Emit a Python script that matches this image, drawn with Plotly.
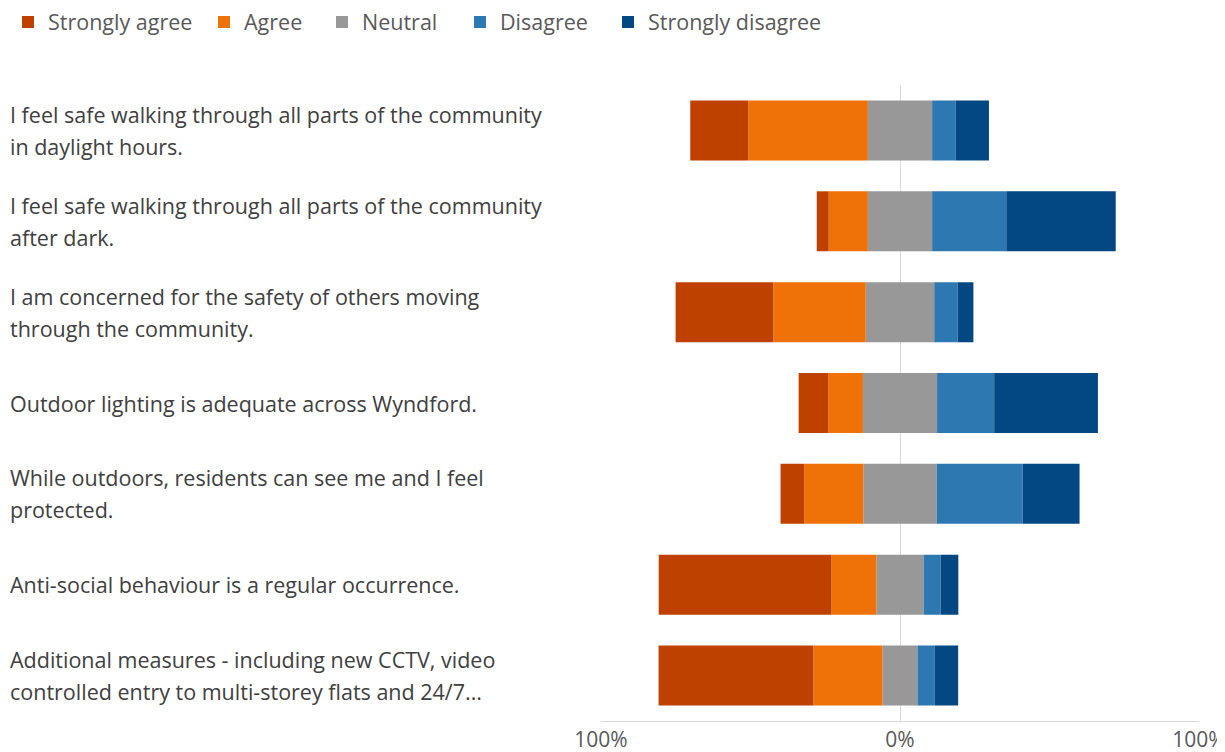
import plotly.graph_objects as go

# ---- data (percent of respondents) ----
label_lines = [
    ["I feel safe walking through all parts of the community", "in daylight hours."],
    ["I feel safe walking through all parts of the community", "after dark."],
    ["I am concerned for the safety of others moving", "through the community."],
    ["Outdoor lighting is adequate across Wyndford."],
    ["While outdoors, residents can see me and I feel", "protected."],
    ["Anti-social behaviour is a regular occurrence."],
    ["Additional measures - including new CCTV, video", "controlled entry to multi-storey flats and 24/7..."],
]
categories = [" ".join(l) for l in label_lines]

strongly_agree = [19.4, 4.0, 32.7, 9.9, 7.9, 57.8, 51.8]
agree = [40.0, 13.1, 30.9, 11.6, 19.8, 15.0, 23.1]
neutral = [21.5, 21.5, 22.9, 24.8, 24.5, 15.8, 11.7]
disagree = [7.9, 24.8, 7.8, 19.1, 28.8, 5.7, 5.8]
strongly_disagree = [11.1, 36.6, 5.3, 34.7, 19.0, 5.9, 7.8]

tick_vals = [-100, 0, 100]
tick_text = ["100%", "0%", "100%"]

series_names = ["Strongly agree", "Agree", "Neutral", "Disagree", "Strongly disagree"]
colors = ["#BE4100", "#EE7207", "#989898", "#2E78B2", "#034882"]

# ---- layout geometry (screen pixels; the page body adds an 8px offset) ----
OFF = 8
SW, SH = 1225, 752
W, H = SW - OFF, SH - OFF
PL, PR, PT, PB = 601, 1199, 84.5, 721.5          # plot box on screen
ML, MR, MT, MB = PL - OFF, SW - PR, PT - OFF, SH - PB
PW, PH = W - ML - MR, H - MT - MB

def px_x(sx):
    return (sx - OFF - ML) / PW

def px_y(sy):
    return (H - MB - (sy - OFF)) / PH

FONT = "Open Sans"
TXT = "#404040"
LEG = "#595959"
FS = 21.5

fig = go.Figure()

half_neutral = [v / 2 for v in neutral]
fig.add_trace(go.Bar(y=categories, x=[-v for v in half_neutral], orientation="h",
                     name=series_names[2], marker=dict(color=colors[2], line=dict(width=0)),
                     legend="legend3", showlegend=True, hoverinfo="skip"))
fig.add_trace(go.Bar(y=categories, x=half_neutral, orientation="h",
                     name=series_names[2], marker=dict(color=colors[2], line=dict(width=0)),
                     legend="legend3", showlegend=False, hoverinfo="skip"))
fig.add_trace(go.Bar(y=categories, x=[-v for v in agree], orientation="h",
                     name=series_names[1], marker=dict(color=colors[1], line=dict(width=0)),
                     legend="legend2", showlegend=True, hoverinfo="skip"))
fig.add_trace(go.Bar(y=categories, x=disagree, orientation="h",
                     name=series_names[3], marker=dict(color=colors[3], line=dict(width=0)),
                     legend="legend4", showlegend=True, hoverinfo="skip"))
fig.add_trace(go.Bar(y=categories, x=[-v for v in strongly_agree], orientation="h",
                     name=series_names[0], marker=dict(color=colors[0], line=dict(width=0)),
                     legend="legend", showlegend=True, hoverinfo="skip"))
fig.add_trace(go.Bar(y=categories, x=strongly_disagree, orientation="h",
                     name=series_names[4], marker=dict(color=colors[4], line=dict(width=0)),
                     legend="legend5", showlegend=True, hoverinfo="skip"))

annotations = []
for cat, lines in zip(categories, label_lines):
    n = len(lines)
    for j, line in enumerate(lines):
        annotations.append(dict(
            xref="paper", x=px_x(8), xanchor="left",
            yref="y", y=cat, yanchor="middle",
            yshift=(n - 1) / 2 * 32 - j * 32,
            text=line, showarrow=False,
            font=dict(family=FONT, size=FS, color=TXT),
        ))

legend_left = [OFF, 204, 322, 460, 608]   # screen x of each legend box
legend_keys = ["legend", "legend2", "legend3", "legend4", "legend5"]
legend_layouts = {}
for key, lx in zip(legend_keys, legend_left):
    legend_layouts[key] = dict(
        x=px_x(lx), xanchor="left",
        y=px_y(1), yanchor="top",
        orientation="h", visible=True,
        font=dict(family=FONT, size=FS, color=LEG),
        bgcolor="rgba(0,0,0,0)", borderwidth=0,
        itemwidth=30, tracegroupgap=0,
    )

fig.update_layout(
    width=W, height=H, autosize=False, showlegend=True,
    margin=dict(l=ML, r=MR, t=MT, b=MB, pad=0, autoexpand=False),
    paper_bgcolor="white", plot_bgcolor="white",
    barmode="relative", bargap=0.34,
    font=dict(family=FONT, size=FS, color=LEG),
    annotations=annotations,
    xaxis=dict(range=[-100, 100], tickvals=tick_vals, ticktext=tick_text,
               showgrid=True, gridcolor="#D9D9D9", gridwidth=1,
               zeroline=False, showline=True, linecolor="#D9D9D9", linewidth=1,
               ticks="", tickfont=dict(family=FONT, size=21, color=LEG),
               ticklabeloverflow="allow", fixedrange=True),
    yaxis=dict(autorange="reversed", showticklabels=False, showgrid=False,
               zeroline=False, showline=False, ticks="", fixedrange=True),
    **legend_layouts,
)

fig.write_html("out.html")
